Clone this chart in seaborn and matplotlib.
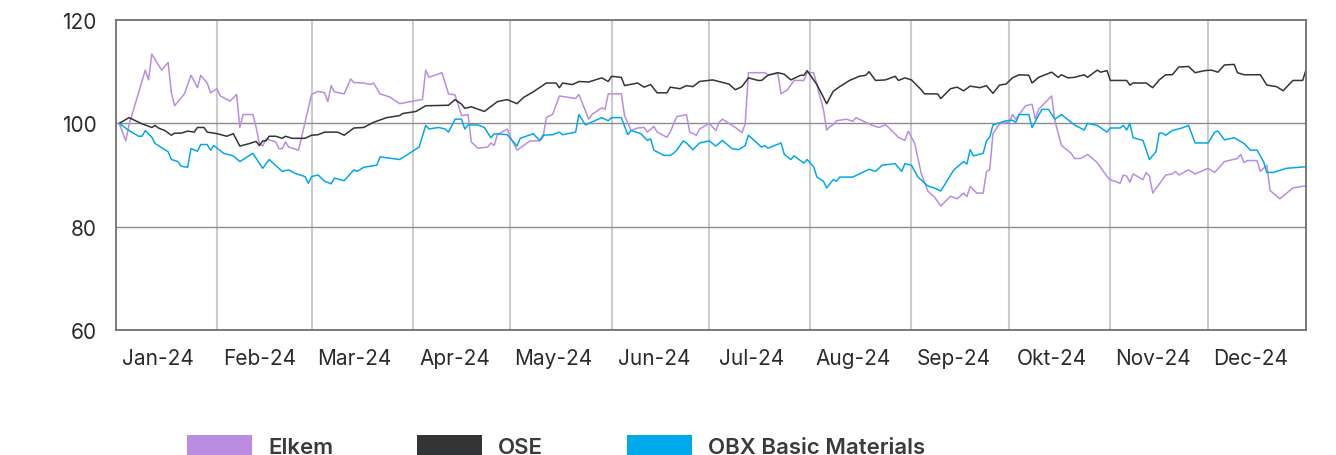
import pandas as pd
import seaborn as sns
import matplotlib.pyplot as plt
from matplotlib.patches import Patch

# Indeksert kursutvikling 2024 (start = 100)
elkem_dates = ['01-02', '01-04', '01-05', '01-10', '01-11', '01-12', '01-15', '01-17', '01-18', '01-19',
               '01-22', '01-24', '01-26', '01-27', '01-29', '01-30', '02-01', '02-02', '02-05', '02-07',
               '02-08', '02-09', '02-12', '02-13', '02-14', '02-15', '02-16', '02-19', '02-20', '02-21',
               '02-22', '02-23', '02-26', '03-01', '03-03', '03-05', '03-06', '03-07', '03-08', '03-11',
               '03-13', '03-14', '03-17', '03-19', '03-20', '03-22', '03-25', '03-28', '04-02', '04-04',
               '04-05', '04-06', '04-10', '04-12', '04-14', '04-16', '04-18', '04-19', '04-21', '04-24',
               '04-25', '04-26', '04-27', '04-30', '05-01', '05-03', '05-07', '05-10', '05-11', '05-12',
               '05-14', '05-16', '05-21', '05-22', '05-25', '05-26', '05-29', '05-30', '05-31', '06-04',
               '06-05', '06-07', '06-09', '06-11', '06-12', '06-14', '06-15', '06-18', '06-19', '06-21',
               '06-24', '06-25', '06-27', '06-28', '07-01', '07-03', '07-04', '07-05', '07-09', '07-11',
               '07-12', '07-13', '07-18', '07-19', '07-22', '07-23', '07-25', '07-27', '07-30', '07-31',
               '08-02', '08-05', '08-06', '08-07', '08-08', '08-09', '08-12', '08-14', '08-15', '08-17',
               '08-20', '08-22', '08-24', '08-25', '08-28', '08-30', '08-31', '09-02', '09-04', '09-06',
               '09-08', '09-10', '09-13', '09-15', '09-17', '09-18', '09-19', '09-21', '09-23', '09-24',
               '09-25', '09-26', '09-28', '09-30', '10-01', '10-02', '10-03', '10-06', '10-08', '10-09',
               '10-10', '10-12', '10-14', '10-15', '10-17', '10-20', '10-21', '10-23', '10-25', '10-28',
               '10-31', '11-01', '11-04', '11-05', '11-06', '11-07', '11-08', '11-11', '11-12', '11-13',
               '11-14', '11-18', '11-20', '11-21', '11-22', '11-25', '11-27', '12-01', '12-03', '12-06',
               '12-10', '12-11', '12-12', '12-13', '12-16', '12-17', '12-19', '12-20', '12-23', '12-27',
               '12-31']
elkem_values = [100.0, 96.6, 99.7, 110.3, 108.4, 113.4, 110.3, 111.8, 105.9, 103.4,
                105.7, 109.3, 106.9, 109.3, 107.8, 105.9, 106.7, 105.3, 104.3, 105.6,
                99.2, 101.7, 101.7, 99.2, 96.1, 95.6, 97.0, 96.4, 95.1, 95.1,
                96.4, 95.4, 94.8, 105.6, 106.2, 105.9, 104.2, 107.3, 106.1, 105.7,
                108.6, 107.9, 107.8, 107.5, 107.8, 105.7, 105.1, 103.8, 104.4, 104.6,
                110.3, 108.9, 109.8, 105.7, 105.5, 101.5, 101.7, 96.4, 95.2, 95.4,
                96.2, 95.7, 97.8, 98.9, 97.3, 94.8, 96.6, 96.6, 97.3, 101.1,
                101.8, 105.3, 104.8, 105.6, 100.8, 101.7, 103.0, 102.7, 105.7, 105.7,
                101.5, 98.6, 99.1, 99.2, 98.3, 99.4, 98.3, 97.3, 98.3, 101.3,
                101.7, 98.3, 97.7, 98.9, 100.0, 98.6, 100.2, 100.8, 99.2, 98.2,
                99.9, 109.8, 109.8, 109.4, 109.7, 105.7, 106.5, 108.3, 108.3, 109.8,
                109.8, 102.7, 98.7, 99.4, 99.7, 100.5, 100.8, 100.4, 101.1, 100.5,
                99.6, 99.2, 99.7, 99.2, 97.3, 96.7, 98.5, 96.1, 90.3, 86.9,
                85.8, 84.0, 85.9, 85.4, 86.5, 85.8, 87.8, 86.5, 86.5, 90.7,
                91.0, 98.0, 99.9, 100.2, 100.2, 101.7, 100.8, 103.4, 103.7, 100.8,
                102.7, 104.0, 105.3, 100.5, 95.7, 94.2, 93.2, 93.2, 94.0, 92.4,
                89.7, 89.1, 88.4, 90.0, 89.8, 88.6, 90.2, 89.1, 90.5, 89.8,
                86.5, 90.0, 90.2, 90.7, 90.0, 91.0, 90.2, 91.3, 90.5, 92.6,
                93.2, 94.0, 92.4, 92.8, 92.8, 90.7, 91.9, 87.0, 85.4, 87.5,
                87.9]

ose_dates = ['01-02', '01-05', '01-07', '01-09', '01-12', '01-13', '01-14', '01-16', '01-18', '01-19',
             '01-21', '01-23', '01-25', '01-26', '01-28', '01-29', '02-01', '02-04', '02-06', '02-08',
             '02-11', '02-13', '02-14', '02-15', '02-16', '02-17', '02-19', '02-21', '02-22', '02-24',
             '02-28', '03-01', '03-03', '03-05', '03-09', '03-11', '03-14', '03-17', '03-20', '03-24',
             '03-28', '03-29', '04-02', '04-05', '04-12', '04-14', '04-16', '04-17', '04-19', '04-23',
             '04-27', '04-30', '05-03', '05-05', '05-08', '05-12', '05-15', '05-16', '05-17', '05-20',
             '05-22', '05-25', '05-27', '05-29', '05-31', '06-01', '06-04', '06-05', '06-09', '06-11',
             '06-13', '06-15', '06-18', '06-19', '06-22', '06-24', '06-26', '06-28', '07-02', '07-07',
             '07-09', '07-11', '07-13', '07-16', '07-17', '07-19', '07-22', '07-24', '07-26', '07-29',
             '07-30', '07-31', '08-03', '08-06', '08-08', '08-10', '08-13', '08-16', '08-18', '08-19',
             '08-21', '08-24', '08-27', '08-28', '08-30', '09-01', '09-04', '09-05', '09-09', '09-10',
             '09-13', '09-15', '09-17', '09-19', '09-22', '09-24', '09-26', '09-28', '09-30', '10-02',
             '10-04', '10-07', '10-08', '10-10', '10-14', '10-16', '10-17', '10-19', '10-21', '10-24',
             '10-25', '10-28', '10-29', '10-31', '11-01', '11-06', '11-07', '11-08', '11-12', '11-14',
             '11-16', '11-18', '11-20', '11-22', '11-25', '11-27', '11-30', '12-02', '12-04', '12-06',
             '12-09', '12-10', '12-12', '12-17', '12-19', '12-22', '12-24', '12-27', '12-30', '12-31']
ose_values = [100.0, 101.1, 100.5, 99.9, 99.2, 99.6, 99.1, 98.6, 97.7, 98.1,
              98.1, 98.5, 98.3, 99.2, 99.2, 98.3, 98.0, 97.5, 98.0, 95.6,
              96.1, 96.5, 95.7, 96.6, 96.6, 97.5, 97.5, 97.1, 97.5, 97.1,
              97.1, 97.7, 97.8, 98.3, 98.3, 97.7, 99.1, 99.2, 100.2, 101.1,
              101.5, 101.9, 102.3, 103.4, 103.5, 104.6, 103.7, 102.9, 103.2, 102.3,
              104.2, 104.6, 103.8, 105.0, 106.1, 107.8, 107.8, 106.9, 107.8, 107.5,
              108.1, 108.0, 108.4, 108.8, 108.1, 109.1, 108.9, 107.3, 107.8, 107.0,
              107.5, 105.9, 105.9, 107.0, 106.7, 107.3, 107.1, 108.1, 108.4, 107.6,
              106.5, 107.1, 108.8, 108.3, 108.3, 109.3, 109.8, 109.5, 108.4, 109.3,
              109.3, 110.2, 107.5, 103.8, 106.2, 107.1, 108.3, 109.1, 109.3, 110.0,
              108.3, 108.4, 109.1, 108.3, 108.8, 108.4, 106.5, 105.7, 105.7, 104.8,
              106.7, 107.0, 106.3, 107.2, 106.9, 107.3, 105.8, 107.4, 107.6, 108.8,
              109.4, 109.3, 107.8, 108.9, 109.9, 108.9, 109.4, 108.8, 108.9, 109.4,
              108.9, 110.3, 109.9, 110.2, 108.3, 108.3, 107.4, 107.8, 107.8, 106.9,
              108.4, 109.4, 109.4, 110.9, 111.0, 109.8, 110.2, 110.3, 109.9, 111.3,
              111.4, 109.8, 109.4, 109.4, 107.4, 107.1, 106.3, 108.3, 108.3, 110.3]

obx_dates = ['01-02', '01-05', '01-08', '01-09', '01-10', '01-12', '01-13', '01-17', '01-18', '01-20',
             '01-21', '01-23', '01-24', '01-26', '01-27', '01-29', '01-30', '01-31', '02-03', '02-06',
             '02-08', '02-12', '02-15', '02-17', '02-21', '02-23', '02-25', '02-28', '02-29', '03-01',
             '03-03', '03-05', '03-07', '03-08', '03-11', '03-14', '03-15', '03-17', '03-21', '03-22',
             '03-28', '03-30', '04-03', '04-05', '04-06', '04-09', '04-11', '04-12', '04-14', '04-16',
             '04-17', '04-18', '04-21', '04-23', '04-25', '04-26', '04-30', '05-03', '05-04', '05-08',
             '05-09', '05-10', '05-11', '05-14', '05-16', '05-17', '05-21', '05-22', '05-24', '05-29',
             '05-31', '06-01', '06-04', '06-06', '06-07', '06-10', '06-12', '06-13', '06-14', '06-17',
             '06-19', '06-20', '06-21', '06-23', '06-24', '06-26', '06-28', '07-01', '07-03', '07-05',
             '07-08', '07-10', '07-12', '07-13', '07-17', '07-18', '07-19', '07-23', '07-24', '07-26',
             '07-27', '07-30', '07-31', '08-02', '08-03', '08-05', '08-06', '08-08', '08-09', '08-10',
             '08-14', '08-19', '08-21', '08-23', '08-27', '08-29', '08-30', '09-01', '09-03', '09-06',
             '09-08', '09-10', '09-14', '09-17', '09-18', '09-19', '09-20', '09-23', '09-24', '09-25',
             '09-26', '09-30', '10-02', '10-03', '10-04', '10-07', '10-08', '10-11', '10-13', '10-15',
             '10-17', '10-21', '10-24', '10-25', '10-28', '10-31', '11-01', '11-04', '11-05', '11-06',
             '11-07', '11-08', '11-11', '11-13', '11-15', '11-16', '11-17', '11-18', '11-20', '11-23',
             '11-25', '11-27', '12-01', '12-03', '12-04', '12-06', '12-09', '12-12', '12-14', '12-16',
             '12-18', '12-19', '12-21', '12-25', '12-31']
obx_values = [100.0, 98.6, 97.5, 97.5, 98.6, 97.3, 96.1, 94.5, 93.0, 92.6,
              91.7, 91.5, 95.1, 94.6, 95.9, 95.9, 94.8, 95.7, 94.2, 93.7,
              92.6, 94.2, 91.3, 93.0, 90.7, 91.0, 90.3, 89.7, 88.4, 89.7,
              90.0, 88.8, 88.3, 89.4, 88.9, 91.0, 90.7, 91.5, 91.9, 93.5,
              93.0, 93.8, 95.4, 99.6, 98.9, 99.2, 98.9, 98.3, 100.8, 100.8,
              98.9, 99.7, 99.7, 99.2, 97.2, 98.0, 97.8, 95.6, 97.1, 98.0,
              97.3, 96.7, 97.7, 97.8, 98.3, 97.8, 98.3, 101.7, 99.7, 101.1,
              100.5, 101.1, 101.1, 97.8, 98.6, 98.0, 96.7, 97.0, 94.8, 93.8,
              93.8, 94.2, 94.8, 96.6, 96.2, 94.9, 96.2, 96.6, 95.6, 96.7,
              95.1, 94.9, 95.7, 97.7, 95.4, 95.7, 95.2, 96.2, 94.0, 93.0,
              93.7, 92.3, 93.0, 91.6, 89.6, 88.8, 87.5, 89.1, 88.8, 89.6,
              89.6, 91.1, 90.7, 91.9, 92.2, 90.7, 92.2, 91.9, 89.6, 87.9,
              87.5, 86.9, 91.0, 92.6, 92.1, 94.9, 93.7, 94.2, 96.6, 97.3,
              99.7, 100.5, 100.6, 100.2, 101.7, 101.7, 99.2, 102.7, 102.7, 100.8,
              101.7, 99.7, 98.7, 100.0, 99.6, 98.3, 99.1, 99.1, 99.6, 98.7,
              100.0, 97.2, 96.7, 93.0, 94.5, 98.1, 98.1, 97.7, 98.6, 99.1,
              99.6, 96.2, 96.2, 98.3, 98.5, 96.8, 97.2, 96.1, 94.8, 94.8,
              92.6, 90.5, 90.5, 91.3, 91.6]

series_names = ['Elkem', 'OSE', 'OBX Basic Materials']
series_colors = ['#BA8DE2', '#323436', '#00A8EC']
month_labels = ['Jan-24', 'Feb-24', 'Mar-24', 'Apr-24', 'May-24', 'Jun-24',
                'Jul-24', 'Aug-24', 'Sep-24', 'Okt-24', 'Nov-24', 'Dec-24']
y_ticks = [60, 80, 100, 120]

frames = []
for name, dates, values in zip(series_names,
                               [elkem_dates, ose_dates, obx_dates],
                               [elkem_values, ose_values, obx_values]):
    frames.append(pd.DataFrame({'date': pd.to_datetime(['2024-' + d for d in dates]),
                                'value': values, 'series': name}))
df = pd.concat(frames, ignore_index=True)

sns.set_theme(style='white')
plt.rcParams['font.family'] = ['Inter', 'DejaVu Sans']

fig = plt.figure(figsize=(13.36, 4.56), dpi=100)
ax = fig.add_axes([0.0868, 0.274, 0.8907, 0.680])

sns.lineplot(data=df, x='date', y='value', hue='series', hue_order=series_names,
             palette=dict(zip(series_names, series_colors)), estimator=None,
             linewidth=1.1, legend=False, ax=ax)

ax.set_xlim(pd.Timestamp('2024-01-01'), pd.Timestamp('2024-12-31'))
ax.set_ylim(60, 120)
ax.set_yticks(y_ticks)
ax.set_yticklabels([str(v) for v in y_ticks])

# måned-grenser som gridlinjer, månedsnavn omtrent midt i måneden
month_starts = pd.date_range('2024-01-01', periods=12, freq='MS')
ax.set_xticks(month_starts)
ax.set_xticklabels([])
ax.set_xticks(month_starts + pd.Timedelta(days=13), minor=True)
ax.set_xticklabels(month_labels, minor=True)

ax.grid(False)
for d in month_starts[1:]:
    ax.axvline(d, color='#cccccc', linewidth=1.5, zorder=0)
for v in [80, 100]:
    ax.axhline(v, color='#8c8c8c', linewidth=1.0, zorder=0)

ax.tick_params(axis='x', which='both', length=0, pad=13, labelsize=15, labelcolor='#2b2b2b')
ax.tick_params(axis='y', length=0, pad=14, labelsize=15, labelcolor='#2b2b2b')
ax.set_xlabel('')
ax.set_ylabel('')

for side in ['left', 'bottom', 'top', 'right']:
    ax.spines[side].set_visible(True)
    ax.spines[side].set_color('#707070')
    ax.spines[side].set_linewidth(1.3)

handles = [Patch(facecolor=c, edgecolor='none') for c in series_colors]
fig.legend(handles, series_names, loc='center left', bbox_to_anchor=(0.132, 0.02),
           ncol=3, frameon=False, borderpad=0, handlelength=2.9, handleheight=1.1,
           handletextpad=0.72, columnspacing=3.8,
           prop={'size': 16, 'weight': 'semibold'}, labelcolor='#3a3a3a')

fig.savefig('out.png', dpi=100)
